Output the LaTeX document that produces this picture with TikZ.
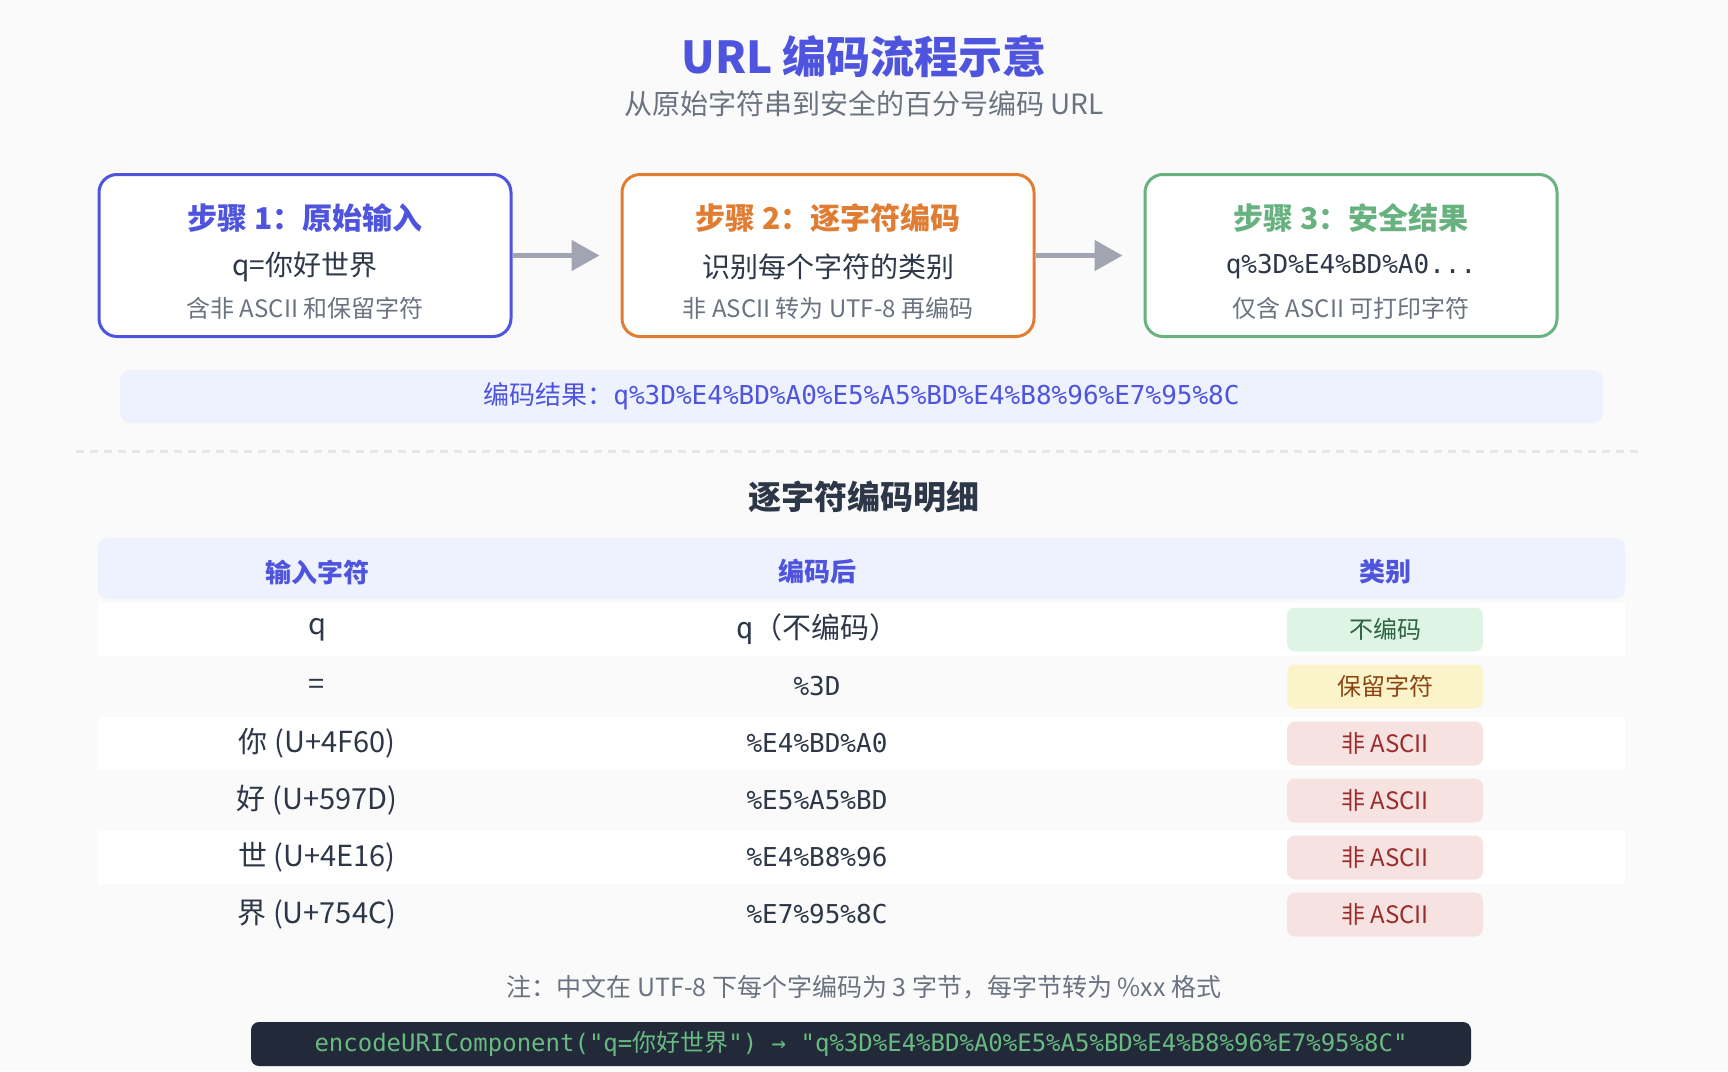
\documentclass[tikz,border=0pt]{standalone}
\usepackage{fontspec}
\setmainfont{Noto Sans CJK SC}
\newfontfamily\codefont{DejaVu Sans Mono}
\newfontfamily\cjkfont{Noto Sans CJK SC}
\usepackage{xcolor}
\usepackage{tikz}
\usetikzlibrary{arrows.meta,positioning,calc}
\definecolor{indigo}{RGB}{78,84,222}
\definecolor{stepor}{RGB}{224,125,50}
\definecolor{stepgr}{RGB}{104,178,128}
\definecolor{ink}{RGB}{45,55,72}
\definecolor{muted}{RGB}{107,114,128}
\definecolor{arrowgray}{RGB}{160,165,177}
\definecolor{paleindigo}{RGB}{238,242,255}
\definecolor{pagebg}{RGB}{250,250,250}
\definecolor{rulegray}{RGB}{228,230,234}
\definecolor{okfill}{RGB}{222,245,229}
\definecolor{oktext}{RGB}{45,100,65}
\definecolor{rsfill}{RGB}{251,243,201}
\definecolor{rstext}{RGB}{140,70,20}
\definecolor{nafill}{RGB}{246,226,225}
\definecolor{natext}{RGB}{155,44,44}
\definecolor{codebg}{RGB}{34,41,56}
\definecolor{codetext}{RGB}{104,186,130}
\tikzset{
  stepbox/.style={rectangle,rounded corners=9pt,line width=1.5pt,fill=white,
              minimum width=206pt,minimum height=81pt,inner sep=0pt},
  steptitle/.style={inner sep=0pt,font=\fontsize{15pt}{18pt}\selectfont\bfseries},
  stepmain/.style={inner sep=0pt,text=ink,font=\fontsize{14pt}{17pt}\selectfont},
  stepnote/.style={inner sep=0pt,text=muted,font=\fontsize{12pt}{14pt}\selectfont},
  flow/.style={-{Triangle[length=14pt,width=15pt]},line width=2.5pt,draw=arrowgray},
  resbar/.style={rectangle,rounded corners=5pt,fill=paleindigo,minimum width=741.5pt,
              minimum height=26.5pt,inner sep=0pt,text=indigo,font=\fontsize{13pt}{16pt}\selectfont},
  thead/.style={rectangle,rounded corners=5pt,fill=paleindigo,minimum width=763.5pt,
              minimum height=30.5pt,inner sep=0pt},
  hcell/.style={inner sep=0pt,text=indigo,font=\fontsize{13pt}{16pt}\selectfont\bfseries},
  rowbg/.style={rectangle,fill=white,minimum width=763.5pt,minimum height=26.5pt,inner sep=0pt},
  cell/.style={inner sep=0pt,text=ink,font=\fontsize{14.5pt}{17pt}\selectfont},
  codecell/.style={inner sep=0pt,text=ink,font=\fontsize{13pt}{16pt}\codefont},
  badge/.style={rectangle,rounded corners=4pt,minimum width=98pt,minimum height=22pt,
              inner sep=0pt,font=\fontsize{12pt}{14pt}\selectfont},
}

\begin{document}
\begin{tikzpicture}[x=0.5pt,y=-0.5pt]
  \useasboundingbox (0,0) rectangle (1728,1071);
  \fill[pagebg] (0,0) rectangle (1728,1071);

  % heading
  \node[inner sep=0pt,text=indigo,font=\fontsize{22pt}{26pt}\selectfont\bfseries] (ttl) at (864,56) {URL 编码流程示意};
  \node[inner sep=0pt,text=muted,font=\fontsize{14pt}{17pt}\selectfont] (sub) at (864,104) {从原始字符串到安全的百分号编码 URL};

  % three steps
  \node[stepbox,draw=indigo] (s1) at (305,255.5) {};
  \node[stepbox,draw=stepor,right=54pt of s1] (s2) {};
  \node[stepbox,draw=stepgr,right=54pt of s2] (s3) {};
  \node[steptitle,text=indigo] (t1) at ([yshift=18.75pt]s1.center) {步骤 1：原始输入};
  \node[stepmain] (m1) at ([yshift=-5.75pt]s1.center) {q=你好世界};
  \node[stepnote] (n1) at ([yshift=-26.25pt]s1.center) {含非 ASCII 和保留字符};
  \node[steptitle,text=stepor] (t2) at ([yshift=18.75pt]s2.center) {步骤 2：逐字符编码};
  \node[stepmain] (m2) at ([yshift=-5.75pt]s2.center) {识别每个字符的类别};
  \node[stepnote] (n2) at ([yshift=-26.25pt]s2.center) {非 ASCII 转为 UTF-8 再编码};
  \node[steptitle,text=stepgr] (t3) at ([yshift=18.75pt]s3.center) {步骤 3：安全结果};
  \node[stepmain,font=\fontsize{13pt}{16pt}\codefont] (m3) at ([yshift=-5.75pt]s3.center) {q\%3D\%E4\%BD\%A0...};
  \node[stepnote] (n3) at ([yshift=-26.25pt]s3.center) {仅含 ASCII 可打印字符};

  \draw[flow] (s1.east) -- ([xshift=-10.5pt]s2.west);
  \draw[flow] (s2.east) -- ([xshift=-10.5pt]s3.west);

  \node[resbar] (res) at (861.5,396.5) {编码结果：{\codefont q\%3D\%E4\%BD\%A0\%E5\%A5\%BD\%E4\%B8\%96\%E7\%95\%8C}};

  \coordinate (sepl) at (76,451);
  \coordinate (sepr) at (1640,451);
  \draw[rulegray,line width=1.5pt,dash pattern=on 4pt off 3pt] (sepl) -- (sepr);

  % table
  \node[inner sep=0pt,text=ink,font=\fontsize{16.5pt}{20pt}\selectfont\bfseries] (tbl) at (864,497) {逐字符编码明细};
  \node[thead] (hd) at (861.5,568.5) {};
  \node[hcell] (h1) at (317,572) {输入字符};
  \node[hcell] (h2) at (817,572) {编码后};
  \node[hcell] (h3) at (1385,572) {类别};

  \node[rowbg] (r1) at (861.5,629.5) {};
  \node[rowbg] (r3) at (861.5,743.5) {};
  \node[rowbg] (r5) at (861.5,857.5) {};

  \node[cell] (c11) at (317,629.5) {q};
  \node[cell] (c12) at (817,629.5) {{\codefont q}（不编码）};
  \node[badge,fill=okfill,text=oktext] (b1) at (1385,629.5) {不编码};
  \node[cell] (c21) at (317,686.5) {=};
  \node[codecell] (c22) at (817,686.5) {\%3D};
  \node[badge,fill=rsfill,text=rstext] (b2) at (1385,686.5) {保留字符};
  \node[cell] (c31) at (317,743.5) {你 (U+4F60)};
  \node[codecell] (c32) at (817,743.5) {\%E4\%BD\%A0};
  \node[badge,fill=nafill,text=natext] (b3) at (1385,743.5) {非 ASCII};
  \node[cell] (c41) at (317,800.5) {好 (U+597D)};
  \node[codecell] (c42) at (817,800.5) {\%E5\%A5\%BD};
  \node[badge,fill=nafill,text=natext] (b4) at (1385,800.5) {非 ASCII};
  \node[cell] (c51) at (317,857.5) {世 (U+4E16)};
  \node[codecell] (c52) at (817,857.5) {\%E4\%B8\%96};
  \node[badge,fill=nafill,text=natext] (b5) at (1385,857.5) {非 ASCII};
  \node[cell] (c61) at (317,914.5) {界 (U+754C)};
  \node[codecell] (c62) at (817,914.5) {\%E7\%95\%8C};
  \node[badge,fill=nafill,text=natext] (b6) at (1385,914.5) {非 ASCII};

  % footer
  \node[inner sep=0pt,text=muted,font=\fontsize{12.5pt}{15pt}\selectfont] (note) at (864,987) {注：中文在 UTF-8 下每个字编码为 3 字节，每字节转为 \%xx 格式};
  \node[rectangle,rounded corners=4pt,fill=codebg,minimum width=610pt,minimum height=22pt,inner sep=0pt,
        text=codetext,font=\fontsize{12pt}{14pt}\codefont] (code) at (861,1044)
        {encodeURIComponent("q={\cjkfont 你好世界}") → "q\%3D\%E4\%BD\%A0\%E5\%A5\%BD\%E4\%B8\%96\%E7\%95\%8C"};
\end{tikzpicture}
\end{document}
